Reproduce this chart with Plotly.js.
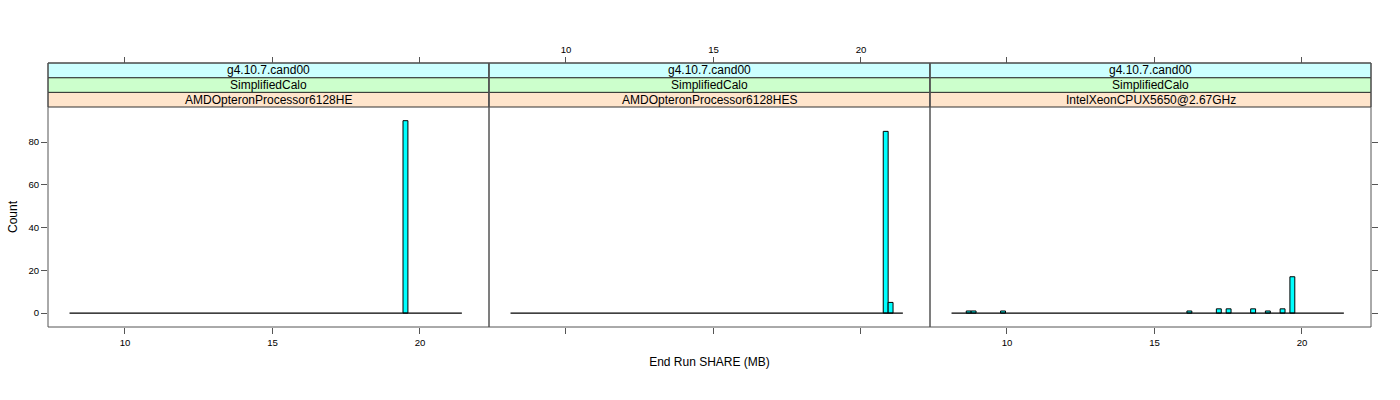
<!DOCTYPE html>
<html>
<head>
<meta charset="utf-8">
<script src="https://cdn.plot.ly/plotly-3.0.1.min.js"></script>
<style>html,body{margin:0;padding:0;background:#fff;}#chart{width:1400px;height:400px;}</style>
</head>
<body>
<div id="chart"></div>
<script>
// ---- data ----
const versionLabels = ["g4.10.7.cand00", "g4.10.7.cand00", "g4.10.7.cand00"];
const geometryLabels = ["SimplifiedCalo", "SimplifiedCalo", "SimplifiedCalo"];
const cpuLabels = ["AMDOpteronProcessor6128HE", "AMDOpteronProcessor6128HES", "IntelXeonCPUX5650@2.67GHz"];
const binWidth = 0.16625;
const breaksRange = [8.12, 21.42];
// bin midpoints (MB) and counts per panel (only non-empty bins)
const p1Mids = [19.508];
const p1Counts = [90];
const p2Mids = [20.838, 21.004];
const p2Counts = [85, 5];
const p3Mids = [8.702, 8.868, 9.866, 16.183, 17.181, 17.513, 18.344, 18.843, 19.342, 19.674];
const p3Counts = [1, 1, 1, 1, 2, 2, 2, 1, 2, 17];
const xTicks = [10, 15, 20];
const yTicks = [0, 20, 40, 60, 80];
const xTitle = "End Run SHARE (MB)";
const yTitle = "Count";

// ---- layout ----
const FONT = "Liberation Sans, Arial, Helvetica, sans-serif";
const xRange = [7.39, 22.34];
const yRange = [-6.5, 96.4];
const dataTop = 220 / 264;
const stripH = (1 - dataTop) / 3;
const doms = [[0, 1/3], [1/3, 2/3], [2/3, 1]];
const mids = [p1Mids, p2Mids, p3Mids];
const counts = [p1Counts, p2Counts, p3Counts];
const axisCol = "#555";

const traces = [];
const xa = ["x", "x2", "x3"];
for (let i = 0; i < 3; i++) {
  traces.push({
    type: "scatter", mode: "lines", x: breaksRange, y: [0, 0],
    xaxis: xa[i], yaxis: "y", line: {color: "#000", width: 1.3},
    hoverinfo: "skip", showlegend: false
  });
  traces.push({
    type: "bar", x: mids[i], y: counts[i], width: mids[i].map(() => binWidth),
    xaxis: xa[i], yaxis: "y",
    marker: {color: "#00FFFF", line: {color: "#000", width: 1}},
    showlegend: false
  });
}
// placeholders for the extra (top/right) axes
traces.push({type: "scatter", x: [], y: [], xaxis: "x4", yaxis: "y", showlegend: false});
traces.push({type: "scatter", x: [], y: [], xaxis: "x5", yaxis: "y", showlegend: false});
traces.push({type: "scatter", x: [], y: [], xaxis: "x6", yaxis: "y", showlegend: false});
traces.push({type: "scatter", x: [], y: [], xaxis: "x3", yaxis: "y2", showlegend: false});

function xAxis(dom, showLabels, extra) {
  return Object.assign({
    domain: dom, range: xRange, tickmode: "array", tickvals: xTicks,
    ticks: "outside", ticklen: 6, tickcolor: axisCol, showticklabels: showLabels,
    tickfont: {family: FONT, size: 9.6, color: "#000"},
    showgrid: false, zeroline: false, showline: false, fixedrange: true
  }, extra || {});
}

const layout = {
  width: 1400, height: 400,
  margin: {l: 48, r: 29, t: 63, b: 73},
  paper_bgcolor: "#fff", plot_bgcolor: "#fff",
  font: {family: FONT, color: "#000"},
  bargap: 0,
  xaxis: xAxis(doms[0], true, {anchor: "y"}),
  xaxis2: xAxis(doms[1], false, {anchor: "y",
    title: {text: xTitle, font: {family: FONT, size: 12, color: "#000"}, standoff: 24}}),
  xaxis3: xAxis(doms[2], true, {anchor: "y"}),
  xaxis4: xAxis(doms[0], false, {overlaying: "x", side: "top", anchor: "free", position: 1}),
  xaxis5: xAxis(doms[1], true, {overlaying: "x2", side: "top", anchor: "free", position: 1}),
  xaxis6: xAxis(doms[2], false, {overlaying: "x3", side: "top", anchor: "free", position: 1}),
  yaxis: {
    domain: [0, dataTop], range: yRange, tickmode: "array", tickvals: yTicks,
    ticks: "outside", ticklen: 6, tickcolor: axisCol, anchor: "x",
    tickfont: {family: FONT, size: 9.6, color: "#000"},
    showgrid: false, zeroline: false, showline: false, fixedrange: true,
    title: {text: yTitle, font: {family: FONT, size: 12, color: "#000"}, standoff: 8}
  },
  yaxis2: {
    overlaying: "y", side: "right", anchor: "x3", range: yRange,
    tickmode: "array", tickvals: yTicks, ticks: "outside", ticklen: 6, tickcolor: axisCol,
    showticklabels: false, showgrid: false, zeroline: false, showline: false, fixedrange: true
  },
  shapes: [], annotations: []
};

const stripCols = ["#FFE5CC", "#CCFFCC", "#CCFFFF"];
for (let i = 0; i < 3; i++) {
  const [x0, x1] = doms[i];
  const stripTexts = [cpuLabels[i], geometryLabels[i], versionLabels[i]];
  for (let s = 0; s < 3; s++) {
    const y0 = dataTop + s * stripH, y1 = dataTop + (s + 1) * stripH;
    layout.shapes.push({type: "rect", xref: "paper", yref: "paper", x0, x1, y0, y1,
      fillcolor: stripCols[s], line: {color: "#333", width: 1}, layer: "below"});
    layout.annotations.push({xref: "paper", yref: "paper", x: (x0 + x1) / 2, y: (y0 + y1) / 2,
      text: stripTexts[s], showarrow: false, xanchor: "center", yanchor: "middle",
      font: {family: FONT, size: 12, color: "#000"}});
  }
  layout.shapes.push({type: "rect", xref: "paper", yref: "paper", x0, x1, y0: 0, y1: 1,
    line: {color: axisCol, width: 1}, fillcolor: "rgba(0,0,0,0)", layer: "above"});
}

Plotly.newPlot("chart", traces, layout, {staticPlot: true, displayModeBar: false});
</script>
</body>
</html>
